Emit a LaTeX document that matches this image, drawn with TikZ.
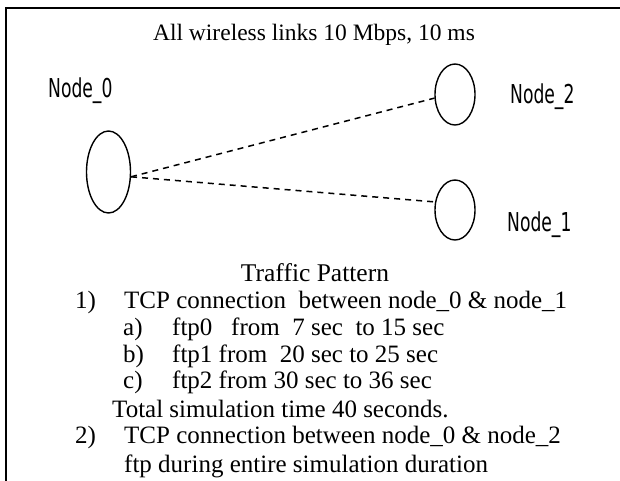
\documentclass[tikz,border=0pt]{standalone}
\usepackage{fontspec}
\setmainfont{Liberation Serif}
\newfontfamily\lblfont[FakeStretch=0.66]{DejaVu Sans}
\usetikzlibrary{shapes.geometric}
\begin{document}
\begin{tikzpicture}[x=1pt,y=-1pt,
  nodeell/.style={draw, ellipse, line width=1.4pt, inner sep=0pt},
  link/.style={line width=1.5pt, dash pattern=on 6pt off 5pt},
  lbl/.style={font=\lblfont\fontsize{26}{30}\selectfont, anchor=base west, inner sep=0pt},
  txt/.style={font=\fontsize{25}{28}\selectfont, anchor=base west, inner sep=0pt},
  frame/.style={line width=2pt}]
\useasboundingbox (0,0) rectangle (620,480);
\clip (0,0) rectangle (620,480);
\draw[frame] (6,500) -- (6,8) -- (640,8);
\node[txt, anchor=base, font=\fontsize{23.5}{28}\selectfont] (title) at (314,40) {All wireless links 10 Mbps, 10 ms};
\node[nodeell, minimum width=44pt, minimum height=82pt] (n0) at (108.5,172) {};
\node[nodeell, minimum width=40pt, minimum height=61pt] (n2) at (455,94.5) {};
\node[nodeell, minimum width=40pt, minimum height=60pt] (n1) at (455,210) {};
\node[lbl] (l0) at (48,97) {Node\_0};
\node[lbl] (l2) at (510,103) {Node\_2};
\node[lbl] (l1) at (507,231) {Node\_1};
\draw[link] (n0.-12) -- (n2.190);
\draw[link] (n0.-12) -- (n1.158);
\node[txt, anchor=base, font=\fontsize{25.5}{28}\selectfont] (tp) at (315,281) {Traffic Pattern};
\node[txt] (e1) at (75,308) {1)};
\node[txt] (t1) at (124,308) {TCP connection\ \ between node\_0 \& node\_1};
\node[txt] (ea) at (123,335) {a)};
\node[txt] (ta) at (172,335) {ftp0\ \ \ from\ \ 7 sec\ \ to 15 sec};
\node[txt] (eb) at (123,362) {b)};
\node[txt] (tb) at (172,362) {ftp1 from\ \ 20 sec to 25 sec};
\node[txt] (ec) at (123,388) {c)};
\node[txt] (tc) at (172,388) {ftp2 from 30 sec to 36 sec};
\node[txt] (tot) at (112,417) {Total simulation time 40 seconds.};
\node[txt] (e2) at (75,443) {2)};
\node[txt] (t2) at (124,443) {TCP connection between node\_0 \& node\_2};
\node[txt] (t3) at (124,472) {ftp during entire simulation duration};
\end{tikzpicture}
\end{document}
